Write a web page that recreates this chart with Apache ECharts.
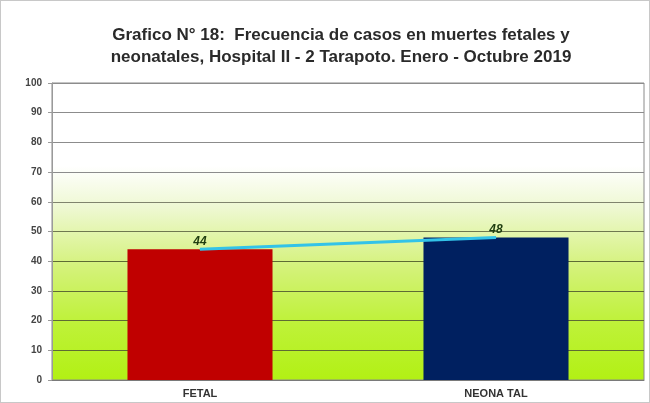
<!DOCTYPE html>
<html>
<head>
<meta charset="utf-8">
<script src="https://cdn.jsdelivr.net/npm/echarts@6/dist/echarts.min.js"></script>
<style>
  html, body { margin: 0; padding: 0; background: #fff; }
  #main { width: 648px; height: 401px; border: 1px solid #c8c8c8; }
</style>
</head>
<body>
<div id="main"></div>
<script>
var categories = ['FETAL', 'NEONA TAL'];
var casos = [44, 48];
var barColors = ['#c00000', '#002060'];
var yTicks = [0, 10, 20, 30, 40, 50, 60, 70, 80, 90, 100];

var chart = echarts.init(document.getElementById('main'));

// gridline colours: olive inside the green part, grey in the white part
var gridColors = ['#5e6b34', '#5e6b34', '#5e6b34', '#5e6b34', '#5e6b34', '#6f7850',
                  '#80846e', '#8c8c8c', '#8c8c8c', '#8c8c8c', '#8c8c8c'];

var option = {
    backgroundColor: '#ffffff',
    title: {
        text: 'Grafico N° 18:  Frecuencia de casos en muertes fetales y\nneonatales, Hospital II - 2 Tarapoto. Enero - Octubre 2019',
        left: 335,
        top: 18,
        textAlign: 'center',
        textStyle: {
            fontFamily: 'Liberation Sans, Arial, sans-serif',
            fontSize: 17,
            fontWeight: 'bold',
            color: '#2a2a2a',
            lineHeight: 22
        }
    },
    grid: {
        left: 51,
        right: 5,
        top: 82,
        bottom: 22,
        show: true,
        borderColor: '#8a8a8a',
        borderWidth: 1,
        backgroundColor: {
            type: 'linear', x: 0, y: 0, x2: 0, y2: 1,
            colorStops: [
                { offset: 0, color: '#ffffff' },
                { offset: 0.28, color: '#ffffff' },
                { offset: 0.42, color: '#eef8d2' },
                { offset: 0.62, color: '#d4f27a' },
                { offset: 0.8, color: '#bff23a' },
                { offset: 1, color: '#b2f014' }
            ]
        }
    },
    xAxis: {
        type: 'category',
        data: categories,
        axisLine: { lineStyle: { color: '#7a7a7a' } },
        axisTick: { show: false },
        axisLabel: {
            fontFamily: 'Liberation Sans, Arial, sans-serif',
            fontSize: 11,
            fontWeight: 'bold',
            color: '#333',
            margin: 8
        }
    },
    yAxis: {
        type: 'value',
        min: yTicks[0],
        max: yTicks[yTicks.length - 1],
        interval: 10,
        axisLine: { show: true, lineStyle: { color: '#9a9a9a' } },
        axisTick: { show: true, length: 4, lineStyle: { color: '#9a9a9a' } },
        axisLabel: {
            fontFamily: 'Liberation Sans, Arial, sans-serif',
            fontSize: 10,
            fontWeight: 'bold',
            color: '#444',
            margin: 10
        },
        splitLine: {
            lineStyle: { color: gridColors, width: 1.2 }
        }
    },
    series: [
        {
            name: 'Casos',
            type: 'bar',
            barWidth: '49%',
            data: casos.map(function (v, i) {
                return { value: v, itemStyle: { color: barColors[i] } };
            }),
            z: 2
        },
        {
            name: 'Tendencia',
            type: 'line',
            data: casos,
            symbol: 'circle',
            symbolSize: 1,
            showSymbol: true,
            itemStyle: { color: '#33c3e8' },
            lineStyle: { color: '#33c3e8', width: 3 },
            label: {
                show: true,
                position: 'top',
                distance: 1,
                fontFamily: 'Liberation Sans, Arial, sans-serif',
                fontSize: 12,
                fontWeight: 'bold',
                fontStyle: 'italic',
                color: '#1f3d10'
            },
            z: 3
        }
    ]
};

chart.setOption(option);
</script>
</body>
</html>
